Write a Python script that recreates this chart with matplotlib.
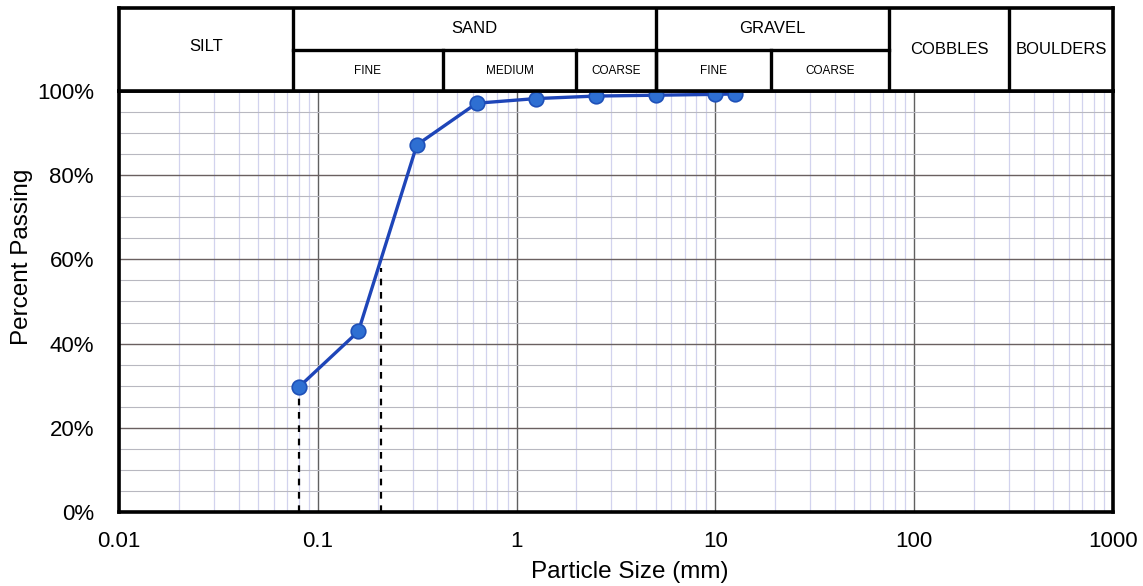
import numpy as np
import matplotlib
matplotlib.use('Agg')
import matplotlib.pyplot as plt
from matplotlib.ticker import FixedLocator, FuncFormatter, LogLocator, MultipleLocator

plt.rcParams['font.family'] = ['Liberation Sans', 'DejaVu Sans']

# Sieve analysis results
sieve_mm = [0.08, 0.16, 0.315, 0.63, 1.25, 2.5, 5, 10, 12.5]
pct_passing = [29.6, 42.9, 87.2, 97.1, 98.2, 98.8, 99.0, 99.2, 99.3]

# Soil classification bands (mm)
main_bounds = [0.01, 0.075, 5, 75, 300, 1000]
main_names = ['SILT', 'SAND', 'GRAVEL', 'COBBLES', 'BOULDERS']
sub_bounds = [0.075, 0.425, 2, 5, 19, 75]
sub_names = ['FINE', 'MEDIUM', 'COARSE', 'FINE', 'COARSE']
split_groups = ['SAND', 'GRAVEL']

x_ticks = [0.01, 0.1, 1, 10, 100, 1000]
y_ticks = [0, 20, 40, 60, 80, 100]
d60 = 60

fig = plt.figure(figsize=(11.43, 5.86), dpi=100)
ax = fig.add_axes([0.1041, 0.1263, 0.8697, 0.7184])
hdr = fig.add_axes([0.1041, 0.8447, 0.8697, 0.1416], sharex=ax)

ax.set_xscale('log')
ax.set_xlim(0.01, 1000)
ax.set_ylim(0, 100)

# grid
ax.xaxis.set_major_locator(FixedLocator(x_ticks))
ax.xaxis.set_minor_locator(LogLocator(base=10, subs=np.arange(2, 10)))
ax.yaxis.set_major_locator(FixedLocator(y_ticks))
ax.yaxis.set_minor_locator(MultipleLocator(5))
ax.grid(which='minor', axis='x', color='#d2d3ee', lw=0.9)
ax.grid(which='minor', axis='y', color='#b8b8c0', lw=0.8)
ax.grid(which='major', axis='x', color='#606060', lw=1.0)
ax.grid(which='major', axis='y', color='#6a6060', lw=1.0)
ax.set_axisbelow(True)

ax.xaxis.set_major_formatter(FuncFormatter(lambda v, p: '%g' % v))
ax.yaxis.set_major_formatter(FuncFormatter(lambda v, p: '%d%%' % v))
ax.tick_params(which='both', length=0)
ax.tick_params(axis='x', labelsize=16, pad=14)
ax.tick_params(axis='y', labelsize=16, pad=18)
for s in ax.spines.values():
    s.set_linewidth(2.6)
    s.set_color('black')

# gradation curve
ax.plot(sieve_mm, pct_passing, color='#1e45b8', lw=2.4, zorder=4)
ax.plot(sieve_mm, pct_passing, 'o', ms=10.5, mfc='#2e6fd2', mec='#1e50b8', mew=1.2, zorder=5)

# dashed markers at finest sieve and D60
logd = np.log10(sieve_mm)
x60 = 10 ** np.interp(d60, pct_passing, logd)
ax.plot([sieve_mm[0], sieve_mm[0]], [0, pct_passing[0]], ls=(0, (3, 3)), color='black', lw=1.6, zorder=3)
ax.plot([x60, x60], [0, d60 - 2], ls=(0, (3, 3)), color='black', lw=1.6, zorder=3)

ax.set_xlabel('Particle Size (mm)', fontsize=17.5)
ax.set_ylabel('Percent Passing', fontsize=17.5)
ax.xaxis.set_label_coords(0.514, -0.117)
ax.yaxis.set_label_coords(-0.086, 0.605)

# classification header
hdr.set_ylim(0, 2)
hdr.tick_params(which='both', bottom=False, left=False, labelbottom=False, labelleft=False)
for s in hdr.spines.values():
    s.set_linewidth(2.6)
lw_box = 2.4
for i, name in enumerate(main_names):
    lo, hi = main_bounds[i], main_bounds[i + 1]
    xc = 10 ** ((np.log10(lo) + np.log10(hi)) / 2)
    if i > 0:
        hdr.axvline(lo, color='black', lw=lw_box)
    if name in split_groups:
        hdr.plot([lo, hi], [1, 1], color='black', lw=lw_box)
        hdr.text(xc, 1.5, name, ha='center', va='center', fontsize=12)
    else:
        hdr.text(xc, 1.08 if name == 'SILT' else 1.0, name, ha='center', va='center', fontsize=12)
for i, name in enumerate(sub_names):
    lo, hi = sub_bounds[i], sub_bounds[i + 1]
    xc = 10 ** ((np.log10(lo) + np.log10(hi)) / 2)
    if i > 0:
        hdr.plot([lo, lo], [0, 1], color='black', lw=lw_box)
    hdr.text(xc, 0.48, name, ha='center', va='center', fontsize=8.5)

fig.savefig('out.png', dpi=100)
